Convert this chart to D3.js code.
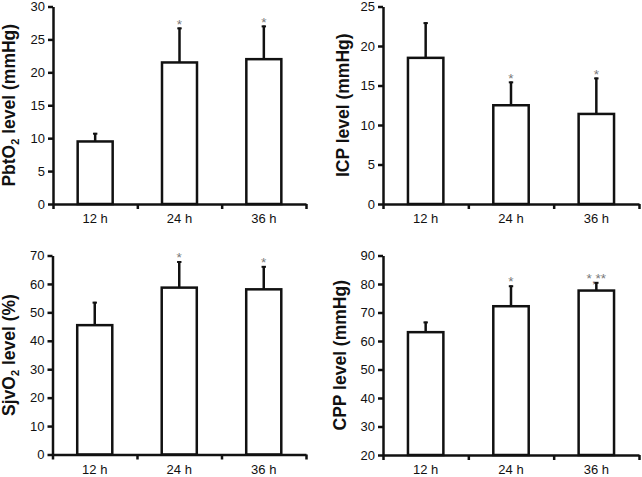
<!DOCTYPE html>
<html>
<head>
<meta charset="utf-8">
<script src="https://cdn.jsdelivr.net/npm/d3@7"></script>
<style>
  html, body { margin: 0; padding: 0; background: #fff; }
  svg { display: block; }
  text { font-family: "Liberation Sans", Arial, sans-serif; }
</style>
</head>
<body>
<svg id="chart" width="642" height="477"></svg>
<script>
// ---- data ----
const categories = ["12 h", "24 h", "36 h"];

const pbto2Mean = [9.5, 21.5, 22.0];
const pbto2SD   = [1.3, 5.3, 5.1];
const pbto2Sig  = ["", "*", "*"];
const pbto2Ticks = [0, 5, 10, 15, 20, 25, 30];

const icpMean = [18.5, 12.5, 11.4];
const icpSD   = [4.5, 3.0, 4.6];
const icpSig  = ["", "*", "*"];
const icpTicks = [0, 5, 10, 15, 20, 25];

const sjvo2Mean = [45.5, 58.7, 58.1];
const sjvo2SD   = [8.2, 9.3, 8.2];
const sjvo2Sig  = ["", "*", "*"];
const sjvo2Ticks = [0, 10, 20, 30, 40, 50, 60, 70];

const cppMean = [63.1, 72.2, 77.7];
const cppSD   = [3.7, 7.3, 3.0];
const cppSig  = ["", "*", "*,**"];
const cppTicks = [20, 30, 40, 50, 60, 70, 80, 90];

// ---- layout ----
const panels = [
  { mean: pbto2Mean, sd: pbto2SD, sig: pbto2Sig, ticks: pbto2Ticks,
    label: ["PbtO", "2", " level (mmHg)"], x0: 53, x1: 306, y0: 6.5, y1: 204, lx: 15 },
  { mean: icpMean, sd: icpSD, sig: icpSig, ticks: icpTicks,
    label: ["ICP level (mmHg)"], x0: 383, x1: 639, y0: 6.5, y1: 204, lx: 349 },
  { mean: sjvo2Mean, sd: sjvo2SD, sig: sjvo2Sig, ticks: sjvo2Ticks,
    label: ["SjvO", "2", " level (%)"], x0: 52.5, x1: 306, y0: 255.5, y1: 454.5, lx: 15 },
  { mean: cppMean, sd: cppSD, sig: cppSig, ticks: cppTicks,
    label: ["CPP level (mmHg)"], x0: 383, x1: 639, y0: 255.5, y1: 455, lx: 346 }
];

const svg = d3.select("#chart");
const LW = 2.5;

panels.forEach(p => {
  const g = svg.append("g");
  const y = d3.scaleLinear()
    .domain([p.ticks[0], p.ticks[p.ticks.length - 1]])
    .range([p.y1, p.y0]);
  const xb = d3.scaleBand().domain(categories).range([p.x0, p.x1]).padding(0);
  const xl = d3.scaleLinear().domain([0, categories.length]).range([p.x0, p.x1]);
  const bw = xb.bandwidth() * 0.415;

  // bars
  g.selectAll("rect.bar").data(categories).enter().append("rect")
    .attr("x", d => xb(d) + xb.bandwidth() / 2 - bw / 2)
    .attr("y", (d, i) => y(p.mean[i]))
    .attr("width", bw)
    .attr("height", (d, i) => y(p.ticks[0]) - y(p.mean[i]))
    .attr("fill", "#fff")
    .attr("stroke", "#111")
    .attr("stroke-width", LW);

  // error bars (upper only)
  g.selectAll("line.err").data(categories).enter().append("line")
    .attr("x1", d => xb(d) + xb.bandwidth() / 2)
    .attr("x2", d => xb(d) + xb.bandwidth() / 2)
    .attr("y1", (d, i) => y(p.mean[i]))
    .attr("y2", (d, i) => y(p.mean[i] + p.sd[i]))
    .attr("stroke", "#111").attr("stroke-width", LW);
  g.selectAll("line.cap").data(categories).enter().append("line")
    .attr("x1", d => xb(d) + xb.bandwidth() / 2 - 2.2)
    .attr("x2", d => xb(d) + xb.bandwidth() / 2 + 2.2)
    .attr("y1", (d, i) => y(p.mean[i] + p.sd[i]) + 0.8)
    .attr("y2", (d, i) => y(p.mean[i] + p.sd[i]) + 0.8)
    .attr("stroke", "#111").attr("stroke-width", 2);

  // significance marks
  g.selectAll("text.sig").data(categories).enter().append("text")
    .attr("x", d => xb(d) + xb.bandwidth() / 2)
    .attr("y", (d, i) => y(p.mean[i] + p.sd[i]) + 1)
    .attr("text-anchor", "middle")
    .attr("font-size", 13.5)
    .attr("fill", "#777")
    .text((d, i) => p.sig[i]);

  // y axis
  const ya = g.append("g").attr("transform", `translate(${p.x0},0)`)
    .call(d3.axisLeft(y).tickValues(p.ticks).tickSize(5).tickPadding(3).tickSizeOuter(0));
  ya.select(".domain").attr("stroke", "#111").attr("stroke-width", LW);
  ya.selectAll(".tick line").attr("stroke", "#111").attr("stroke-width", LW);
  ya.selectAll(".tick text").attr("font-size", 13).attr("fill", "#111")
    .attr("font-family", "Liberation Sans, Arial, sans-serif");

  // x axis (ticks at band boundaries)
  const xa = g.append("g").attr("transform", `translate(0,${p.y1})`)
    .call(d3.axisBottom(xl).tickValues(d3.range(categories.length + 1)).tickFormat("").tickSize(5).tickSizeOuter(0));
  xa.select(".domain").attr("stroke", "#111").attr("stroke-width", LW);
  xa.selectAll(".tick line").attr("stroke", "#111").attr("stroke-width", LW);

  // category labels
  g.selectAll("text.cat").data(categories).enter().append("text")
    .attr("x", d => xb(d) + xb.bandwidth() / 2)
    .attr("y", p.y1 + 19)
    .attr("text-anchor", "middle")
    .attr("font-size", 13)
    .attr("fill", "#111")
    .text(d => d);

  // y-axis title
  const cy = (p.y0 + p.y1) / 2;
  const t = g.append("text")
    .attr("transform", `translate(${p.lx},${cy}) rotate(-90)`)
    .attr("text-anchor", "middle")
    .attr("font-size", 17.5)
    .attr("font-weight", "bold")
    .attr("fill", "#111");
  p.label.forEach((s, i) => {
    const ts = t.append("tspan").text(s);
    if (p.label.length === 3 && i === 1) {
      ts.attr("font-size", 11).attr("dy", 4);
    } else if (p.label.length === 3 && i === 2) {
      ts.attr("dy", -4);
    }
  });
});
</script>
</body>
</html>
